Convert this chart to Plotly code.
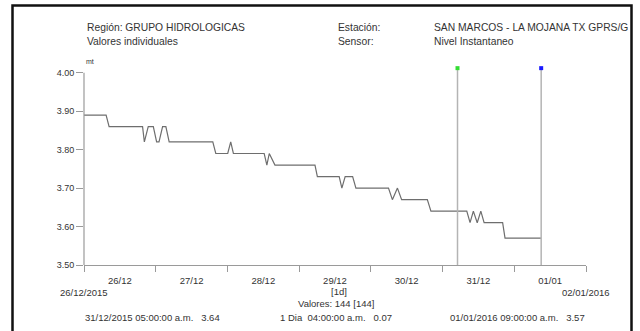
import pandas as pd
import plotly.graph_objects as go

# Nivel instantaneo, SAN MARCOS - LA MOJANA (vertices of the recorded curve)
start = pd.Timestamp("2015-12-26 00:00")
end = pd.Timestamp("2016-01-02 00:00")

level_hours = [0, 7.4, 8.4, 19.6, 20.2, 21.5, 23.2, 24.3, 25.1, 26.3, 27.4, 28.5,
               43.1, 44.1, 48.1, 49.1, 50.0, 60.3, 61.2, 62.0, 63.9, 77.3, 78.1,
               85.4, 86.3, 87.4, 89.9, 91.0, 101.9, 103.2, 104.9, 106.3, 114.9, 116.1,
               128.1, 129.2, 130.3, 131.6, 132.8, 133.9, 140.1, 140.9, 153.0]
level_values = [3.89, 3.89, 3.86, 3.86, 3.82, 3.86, 3.86, 3.82, 3.82, 3.86, 3.86, 3.82,
                3.82, 3.79, 3.79, 3.82, 3.79, 3.79, 3.76, 3.79, 3.76, 3.76, 3.73,
                3.73, 3.70, 3.73, 3.73, 3.70, 3.70, 3.67, 3.70, 3.67, 3.67, 3.64,
                3.64, 3.61, 3.64, 3.61, 3.64, 3.61, 3.61, 3.57, 3.57]

cursor_times = ["2015-12-31 05:00", "2016-01-01 09:00"]
cursor_values = [3.64, 3.57]
cursor_colors = ["#33dd33", "#1a1aff"]

n_values = 144
interval = "[1d]"

y_ticks = [3.50, 3.60, 3.70, 3.80, 3.90, 4.00]

FONT = "Liberation Sans, Arial"
TXT = "#333333"

# page geometry in pixels (plot area is 84..586 x 67..265)
W, H = 640, 331
L, R, T, B = 84, 54, 67, 66
PW, PH = W - L - R, H - T - B


def px(x):
    return (x - L) / PW


def py(y):
    return (H - B - y) / PH


times = [start + pd.to_timedelta(h, unit="h") for h in level_hours]

fig = go.Figure()
fig.add_trace(go.Scatter(x=times, y=level_values, mode="lines",
                         line=dict(color="#6e6e6e", width=1.2),
                         hoverinfo="skip"))

y_top = 4.012
for t, c in zip(cursor_times, cursor_colors):
    fig.add_trace(go.Scatter(x=[t, t], y=[y_ticks[0], y_top], mode="lines",
                             line=dict(color="#b4b4b4", width=1.5), hoverinfo="skip"))
    fig.add_trace(go.Scatter(x=[t], y=[y_top], mode="markers", cliponaxis=False,
                             marker=dict(color=c, size=4, symbol="square"), hoverinfo="skip"))


def fmt_cursor(t, v):
    ts = pd.Timestamp(t)
    ampm = "a.m." if ts.hour < 12 else "p.m."
    return ts.strftime("%d/%m/%Y %I:%M:%S") + " " + ampm + "&nbsp;&nbsp;&nbsp;" + f"{v:.2f}"


delta = pd.Timestamp(cursor_times[1]) - pd.Timestamp(cursor_times[0])
hh = delta.seconds // 3600
mm = (delta.seconds % 3600) // 60
dia_txt = (f"{delta.days} Dia&nbsp;&nbsp;{hh:02d}:{mm:02d}:00 a.m.&nbsp;&nbsp;&nbsp;"
           f"{abs(cursor_values[0] - cursor_values[1]):.2f}")

texts = [
    ("Región: GRUPO HIDROLOGICAS", 85, 28, "left", 10.3),
    ("Valores individuales", 85, 42, "left", 10.3),
    ("Estación:", 336, 28, "left", 10.3),
    ("Sensor:", 336, 42, "left", 10.3),
    ("SAN MARCOS - LA MOJANA TX GPRS/G", 432, 28, "left", 10.3),
    ("Nivel Instantaneo", 432, 42, "left", 10.3),
    ("mt", 84, 61, "left", 7),
    (start.strftime("%d/%m/%Y"), 84, 292, "center", 9.5),
    (end.strftime("%d/%m/%Y"), 586, 292, "center", 9.5),
    (interval, 339, 291, "center", 9.5),
    (f"Valores: {n_values} [{n_values}]", 336, 303, "center", 9.5),
    (fmt_cursor(cursor_times[0], cursor_values[0]), 83, 317, "left", 9.5),
    (dia_txt, 278, 317, "left", 9.5),
    (fmt_cursor(cursor_times[1], cursor_values[1]), 448, 317, "left", 9.5),
]
for txt, x, y, anchor, size in texts:
    fig.add_annotation(text=txt, xref="paper", yref="paper", x=px(x), y=py(y),
                       xanchor=anchor, yanchor="middle", showarrow=False,
                       font=dict(family=FONT, size=size, color=TXT))

# y axis line only up to 4.00
fig.add_shape(type="line", xref="paper", yref="y", x0=0, x1=0, y0=y_ticks[0], y1=y_ticks[-1],
              line=dict(color="#9a9a9a", width=1.2))
# outer frame
fig.add_shape(type="rect", xref="paper", yref="paper",
              x0=px(12.5), x1=px(631.5), y0=py(335), y1=py(5.5),
              line=dict(color="#111111", width=2.5))

fig.update_xaxes(range=[start, end], type="date", dtick=86400000, tick0=start,
                 tickformat="%d/%m", ticklabelmode="period",
                 ticks="outside", ticklen=6, tickcolor="#9a9a9a",
                 showline=True, linecolor="#9a9a9a", linewidth=1.2,
                 showgrid=False, zeroline=False,
                 tickfont=dict(family=FONT, size=9.5, color=TXT))
fig.update_yaxes(range=[y_ticks[0], 4.015], tickvals=y_ticks, tickformat=".2f",
                 ticks="outside", ticklen=7, tickcolor="#9a9a9a",
                 showline=False, showgrid=False, zeroline=False,
                 tickfont=dict(family=FONT, size=9, color=TXT))

fig.update_layout(width=W, height=H, margin=dict(l=L, r=R, t=T, b=B),
                  paper_bgcolor="white", plot_bgcolor="white", showlegend=False)

# drop the default page margin so the figure sits at the window's top-left corner
fig.write_html("out.html", config={"displayModeBar": False},
               post_script="document.body.style.margin='0';")
